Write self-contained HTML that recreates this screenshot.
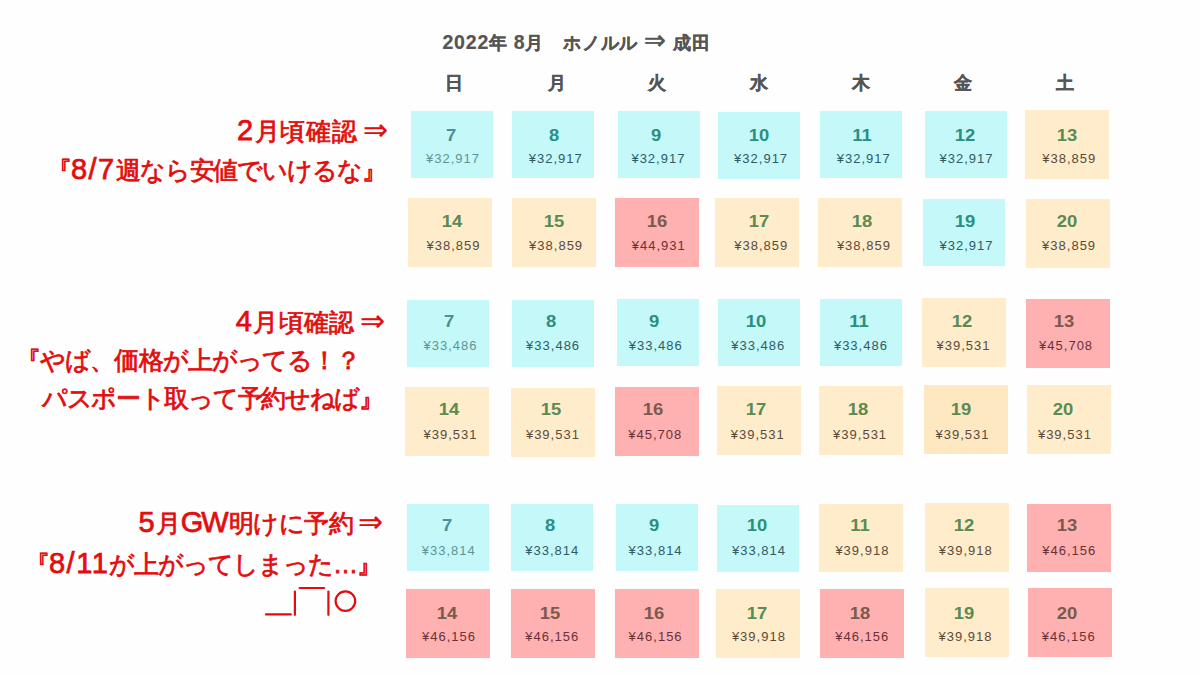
<!DOCTYPE html>
<html><head><meta charset="utf-8"><style>
html,body{margin:0;padding:0;}
body{width:1200px;height:675px;overflow:hidden;background:#fefefe;position:relative;font-family:"Liberation Sans",sans-serif;}
.title{position:absolute;font-size:18px;font-weight:bold;color:#555;white-space:nowrap;line-height:24px;}
.day{position:absolute;width:60px;text-align:center;font-size:18px;font-weight:bold;color:#555;line-height:24px;-webkit-text-stroke:0.3px #555;}
.cell{position:absolute;box-sizing:border-box;text-align:center;}
.cell .n{position:absolute;left:0;right:0;top:16px;font-size:16px;font-weight:bold;line-height:18px;transform:scaleX(1.15);}
.cell .p{position:absolute;left:0;right:0;top:40px;font-size:13px;line-height:16px;letter-spacing:1px;text-indent:1px;}
.c{background:#c4f8f9;} .c .n{color:#2b8f7f;} .c .p{color:#2f5a66;}
.o{background:#feecca;} .o .n{color:#5b8a52;} .o .p{color:#5a4a3a;}
.d{background:#fde8c2;} .d .n{color:#5b8a52;} .d .p{color:#5a4a3a;}
.r{background:#feb1b0;} .r .n{color:#7a5a4e;} .r .p{color:#6a3038;}
.past .n{color:#4f8f92;} .past .p{color:#5f9496;}
.red{position:absolute;color:#e30d0d;font-size:25px;line-height:30px;white-space:nowrap;-webkit-text-stroke:0.75px #e30d0d;}
.title{-webkit-text-stroke:0.2px #555;} .title .l{font-size:19.5px;}
.red .ar{margin-left:-2px;font-size:30px;-webkit-text-stroke:0.2px #e30d0d;} .title .ar{font-size:26px;font-weight:normal;-webkit-text-stroke:0.6px #555;}
.red .l{font-size:29px;letter-spacing:1.5px;}
</style></head><body>
<div class="title" style="left:442.4px;top:27.8px;letter-spacing:0.82px"><span class="l">2022</span>年 <span class="l">8</span>月　ホノルル <span class="ar">⇒</span> 成田</div>
<div class="day" style="left:423.8px;top:70.9px">日</div><div class="day" style="left:526.6px;top:70.9px">月</div><div class="day" style="left:626.5px;top:70.9px">火</div><div class="day" style="left:728.5px;top:70.9px">水</div><div class="day" style="left:830.5px;top:70.9px">木</div><div class="day" style="left:933.0px;top:70.9px">金</div><div class="day" style="left:1034.5px;top:70.9px">土</div>
<div class="cell c past" style="left:411px;top:111px;width:82px;height:67px"><div class="n" style="margin-top:0px;left:-1.0px;right:1.0px">7</div><div class="p" style="margin-top:0px;left:0.5px;right:-0.5px">¥32,917</div></div><div class="cell c" style="left:512px;top:111px;width:82px;height:67px"><div class="n" style="margin-top:0px;left:0.7px;right:-0.7px">8</div><div class="p" style="margin-top:0px;left:2.2px;right:-2.2px">¥32,917</div></div><div class="cell c" style="left:618px;top:111px;width:82px;height:67px"><div class="n" style="margin-top:0px;left:-2.6px;right:2.6px">9</div><div class="p" style="margin-top:0px;left:-1.1px;right:1.1px">¥32,917</div></div><div class="cell c" style="left:718px;top:112px;width:82px;height:67px"><div class="n" style="margin-top:-1px;left:0.1px;right:-0.1px">10</div><div class="p" style="margin-top:-1px;left:1.6px;right:-1.6px">¥32,917</div></div><div class="cell c" style="left:820px;top:111px;width:82px;height:67px"><div class="n" style="margin-top:0px;left:0.8px;right:-0.8px">11</div><div class="p" style="margin-top:0px;left:2.3px;right:-2.3px">¥32,917</div></div><div class="cell c" style="left:925px;top:111px;width:82px;height:67px"><div class="n" style="margin-top:0px;left:-1.5px;right:1.5px">12</div><div class="p" style="margin-top:0px;left:0.0px;right:0.0px">¥32,917</div></div><div class="cell o" style="left:1025px;top:110px;width:84px;height:69px"><div class="n" style="margin-top:1px;left:0.2px;right:-0.2px">13</div><div class="p" style="margin-top:1px;left:1.7px;right:-1.7px">¥38,859</div></div><div class="cell o" style="left:408px;top:198px;width:84px;height:69px"><div class="n" style="margin-top:-1px;left:1.5px;right:-1.5px">14</div><div class="p" style="margin-top:0px;left:3.0px;right:-3.0px">¥38,859</div></div><div class="cell o" style="left:512px;top:198px;width:84px;height:69px"><div class="n" style="margin-top:-1px;left:0.1px;right:-0.1px">15</div><div class="p" style="margin-top:0px;left:1.6px;right:-1.6px">¥38,859</div></div><div class="cell r" style="left:615px;top:198px;width:84px;height:69px"><div class="n" style="margin-top:-1px;left:-0.3px;right:0.3px">16</div><div class="p" style="margin-top:0px;left:1.2px;right:-1.2px">¥44,931</div></div><div class="cell o" style="left:715px;top:198px;width:84px;height:69px"><div class="n" style="margin-top:-1px;left:2.3px;right:-2.3px">17</div><div class="p" style="margin-top:0px;left:3.8px;right:-3.8px">¥38,859</div></div><div class="cell o" style="left:818px;top:198px;width:84px;height:69px"><div class="n" style="margin-top:-1px;left:1.9px;right:-1.9px">18</div><div class="p" style="margin-top:0px;left:3.4px;right:-3.4px">¥38,859</div></div><div class="cell c" style="left:923px;top:199px;width:82px;height:67px"><div class="n" style="margin-top:-2px;left:0.5px;right:-0.5px">19</div><div class="p" style="margin-top:-1px;left:2.0px;right:-2.0px">¥32,917</div></div><div class="cell o" style="left:1026px;top:199px;width:84px;height:69px"><div class="n" style="margin-top:-2px;left:-0.9px;right:0.9px">20</div><div class="p" style="margin-top:-1px;left:0.6px;right:-0.6px">¥38,859</div></div><div class="cell c past" style="left:407px;top:300px;width:82px;height:67px"><div class="n" style="margin-top:-3px;left:0.5px;right:-0.5px">7</div><div class="p" style="margin-top:-2px;left:2.0px;right:-2.0px">¥33,486</div></div><div class="cell c" style="left:512px;top:300px;width:82px;height:67px"><div class="n" style="margin-top:-3px;left:-1.9px;right:1.9px">8</div><div class="p" style="margin-top:-2px;left:-0.3999999999999999px;right:0.3999999999999999px">¥33,486</div></div><div class="cell c" style="left:617px;top:299px;width:82px;height:67px"><div class="n" style="margin-top:-2px;left:-4.3px;right:4.3px">9</div><div class="p" style="margin-top:-1px;left:-2.8px;right:2.8px">¥33,486</div></div><div class="cell c" style="left:718px;top:299px;width:82px;height:67px"><div class="n" style="margin-top:-2px;left:-2.7px;right:2.7px">10</div><div class="p" style="margin-top:-1px;left:-1.2000000000000002px;right:1.2000000000000002px">¥33,486</div></div><div class="cell c" style="left:820px;top:299px;width:82px;height:67px"><div class="n" style="margin-top:-2px;left:-2.1px;right:2.1px">11</div><div class="p" style="margin-top:-1px;left:-0.6000000000000001px;right:0.6000000000000001px">¥33,486</div></div><div class="cell o" style="left:922px;top:298px;width:84px;height:69px"><div class="n" style="margin-top:-1px;left:-2.5px;right:2.5px">12</div><div class="p" style="margin-top:0px;left:-1.0px;right:1.0px">¥39,531</div></div><div class="cell r" style="left:1026px;top:299px;width:84px;height:69px"><div class="n" style="margin-top:-2px;left:-3.9px;right:3.9px">13</div><div class="p" style="margin-top:-1px;left:-2.4px;right:2.4px">¥45,708</div></div><div class="cell o" style="left:405px;top:387px;width:84px;height:69px"><div class="n" style="margin-top:-2px;left:1.5px;right:-1.5px">14</div><div class="p" style="margin-top:0px;left:3.0px;right:-3.0px">¥39,531</div></div><div class="cell o" style="left:511px;top:388px;width:84px;height:69px"><div class="n" style="margin-top:-3px;left:-2.1px;right:2.1px">15</div><div class="p" style="margin-top:-1px;left:-0.6000000000000001px;right:0.6000000000000001px">¥39,531</div></div><div class="cell r" style="left:615px;top:387px;width:84px;height:69px"><div class="n" style="margin-top:-2px;left:-3.7px;right:3.7px">16</div><div class="p" style="margin-top:0px;left:-2.2px;right:2.2px">¥45,708</div></div><div class="cell o" style="left:717px;top:386px;width:84px;height:69px"><div class="n" style="margin-top:-1px;left:-3.3px;right:3.3px">17</div><div class="p" style="margin-top:1px;left:-1.7999999999999998px;right:1.7999999999999998px">¥39,531</div></div><div class="cell o" style="left:819px;top:386px;width:84px;height:69px"><div class="n" style="margin-top:-1px;left:-2.9px;right:2.9px">18</div><div class="p" style="margin-top:1px;left:-1.4px;right:1.4px">¥39,531</div></div><div class="cell d" style="left:924px;top:385px;width:84px;height:69px"><div class="n" style="margin-top:0px;left:-5.5px;right:5.5px">19</div><div class="p" style="margin-top:2px;left:-4.0px;right:4.0px">¥39,531</div></div><div class="cell o" style="left:1027px;top:385px;width:84px;height:69px"><div class="n" style="margin-top:0px;left:-6.1px;right:6.1px">20</div><div class="p" style="margin-top:2px;left:-4.6px;right:4.6px">¥39,531</div></div><div class="cell c past" style="left:407px;top:504px;width:82px;height:67px"><div class="n" style="margin-top:-3px;left:-1.2px;right:1.2px">7</div><div class="p" style="margin-top:-1px;left:0.30000000000000004px;right:-0.30000000000000004px">¥33,814</div></div><div class="cell c" style="left:511px;top:504px;width:82px;height:67px"><div class="n" style="margin-top:-3px;left:-1.8px;right:1.8px">8</div><div class="p" style="margin-top:-1px;left:-0.30000000000000004px;right:0.30000000000000004px">¥33,814</div></div><div class="cell c" style="left:616px;top:504px;width:82px;height:67px"><div class="n" style="margin-top:-3px;left:-3.4px;right:3.4px">9</div><div class="p" style="margin-top:-1px;left:-1.9px;right:1.9px">¥33,814</div></div><div class="cell c" style="left:717px;top:505px;width:82px;height:67px"><div class="n" style="margin-top:-4px;left:-1.0px;right:1.0px">10</div><div class="p" style="margin-top:-2px;left:0.5px;right:-0.5px">¥33,814</div></div><div class="cell o" style="left:819px;top:504px;width:84px;height:68px"><div class="n" style="margin-top:-3px;left:-0.6px;right:0.6px">11</div><div class="p" style="margin-top:-1px;left:0.9px;right:-0.9px">¥39,918</div></div><div class="cell o" style="left:925px;top:503px;width:84px;height:69px"><div class="n" style="margin-top:-2px;left:-3.2px;right:3.2px">12</div><div class="p" style="margin-top:0px;left:-1.7000000000000002px;right:1.7000000000000002px">¥39,918</div></div><div class="cell r" style="left:1027px;top:504px;width:84px;height:68px"><div class="n" style="margin-top:-3px;left:-1.8px;right:1.8px">13</div><div class="p" style="margin-top:-1px;left:-0.30000000000000004px;right:0.30000000000000004px">¥46,156</div></div><div class="cell r" style="left:406px;top:589px;width:84px;height:69px"><div class="n" style="margin-top:0px;left:-1.0px;right:1.0px">14</div><div class="p" style="margin-top:0px;left:0.5px;right:-0.5px">¥46,156</div></div><div class="cell r" style="left:511px;top:589px;width:84px;height:69px"><div class="n" style="margin-top:0px;left:-2.7px;right:2.7px">15</div><div class="p" style="margin-top:0px;left:-1.2000000000000002px;right:1.2000000000000002px">¥46,156</div></div><div class="cell r" style="left:615px;top:589px;width:84px;height:69px"><div class="n" style="margin-top:0px;left:-3.4px;right:3.4px">16</div><div class="p" style="margin-top:0px;left:-1.9px;right:1.9px">¥46,156</div></div><div class="cell o" style="left:716px;top:589px;width:84px;height:69px"><div class="n" style="margin-top:0px;left:-1.1px;right:1.1px">17</div><div class="p" style="margin-top:0px;left:0.3999999999999999px;right:-0.3999999999999999px">¥39,918</div></div><div class="cell r" style="left:820px;top:589px;width:84px;height:69px"><div class="n" style="margin-top:0px;left:-1.8px;right:1.8px">18</div><div class="p" style="margin-top:0px;left:-0.30000000000000004px;right:0.30000000000000004px">¥46,156</div></div><div class="cell o" style="left:925px;top:588px;width:84px;height:69px"><div class="n" style="margin-top:1px;left:-3.5px;right:3.5px">19</div><div class="p" style="margin-top:1px;left:-2.0px;right:2.0px">¥39,918</div></div><div class="cell r" style="left:1028px;top:588px;width:84px;height:69px"><div class="n" style="margin-top:1px;left:-3.2px;right:3.2px">20</div><div class="p" style="margin-top:1px;left:-1.7000000000000002px;right:1.7000000000000002px">¥46,156</div></div>
<div class="red" style="left:237.1px;top:115.0px;letter-spacing:0.67px"><span class="l">2</span>月頃確認 <span class="ar">⇒</span></div>
<div class="red" style="left:47.0px;top:154.0px;letter-spacing:-1.08px">『<span class="l">8/7</span>週なら安値でいけるな』</div>
<div class="red" style="left:235.8px;top:306.2px;letter-spacing:0.34px"><span class="l">4</span>月頃確認 <span class="ar">⇒</span></div>
<div class="red" style="left:16.1px;top:345.0px;letter-spacing:-0.91px">『やば、価格が上がってる！？</div>
<div class="red" style="left:42.0px;top:383.0px;letter-spacing:-1.31px">パスポート取って予約せねば』</div>
<div class="red" style="left:138.5px;top:506.7px;letter-spacing:-0.5px"><span class="l">5</span>月<span class="l" style="letter-spacing:-2px;margin-right:2px">GW</span>明けに予約 <span class="ar">⇒</span></div>
<div class="red" style="left:25.0px;top:548.0px;letter-spacing:-1.03px">『<span class="l">8/11</span>が上がってしまった…』</div>

<svg style="position:absolute;left:260px;top:580px" width="110" height="45" viewBox="260 580 110 45">
<g stroke="#e30d0d" stroke-width="2.2" fill="none" stroke-linecap="round">
<line x1="266" y1="614.4" x2="290.8" y2="614.4"/>
<line x1="294.9" y1="591.5" x2="294.9" y2="614.8"/>
<line x1="299.6" y1="588" x2="324.2" y2="588"/>
<line x1="328.4" y1="591.5" x2="328.4" y2="614.8"/>
<circle cx="345.4" cy="601.1" r="9.8"/>
</g></svg>
</body></html>
